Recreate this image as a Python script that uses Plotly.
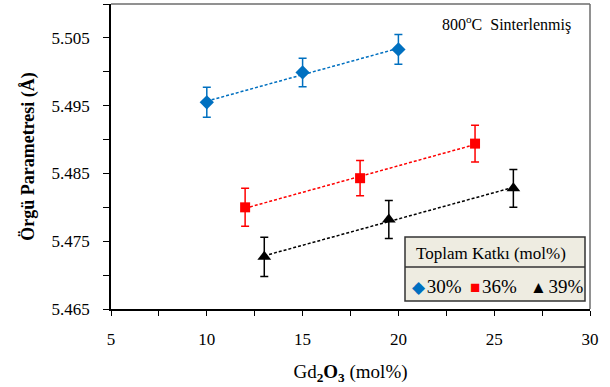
import numpy as np
import plotly.graph_objects as go

# Data
x_30 = [10, 15, 20]
y_30 = [5.4955, 5.4999, 5.5033]
e_30 = [0.0022, 0.0021, 0.0022]

x_36 = [12, 18, 24]
y_36 = [5.4800, 5.4843, 5.4894]
e_36 = [0.0028, 0.0026, 0.0027]

x_39 = [13, 19.5, 26]
y_39 = [5.4727, 5.4782, 5.4828]
e_39 = [0.0029, 0.0028, 0.0028]

series_names = ["30%", "36%", "39%"]
colors = ["#0070C0", "#FF0000", "#000000"]
symbols = ["diamond", "square", "triangle-up"]
glyphs = ["◆", "■", "▲"]
sizes = [11, 10, 12]

FONT = "Liberation Serif, Times New Roman, serif"

fig = go.Figure()
for xs, ys, es, name, col, sym, sz in zip(
    [x_30, x_36, x_39], [y_30, y_36, y_39], [e_30, e_36, e_39],
    series_names, colors, symbols, sizes):
    # linear trend line
    k, b = np.polyfit(xs, ys, 1)
    xt = np.array([min(xs), max(xs)])
    fig.add_trace(go.Scatter(
        x=xt, y=k * xt + b, mode="lines", showlegend=False, hoverinfo="skip",
        line=dict(color=col, width=1.5, dash="3px,2px")))
    fig.add_trace(go.Scatter(
        x=xs, y=ys, mode="markers", name=name, showlegend=False,
        marker=dict(symbol=sym, size=sz, color=col),
        error_y=dict(type="data", array=es, visible=True, color=col,
                     thickness=1.5, width=4)))

L, R, T, B = 111, 20, 4, 78
W, H = 610, 387
pw, ph = W - L - R, H - T - B


def px_x(p):
    return (p - L) / pw


def px_y(p):
    return (H - B - p) / ph


fig.update_layout(
    width=W, height=H,
    margin=dict(l=L, r=R, t=T, b=B, autoexpand=False),
    plot_bgcolor="white", paper_bgcolor="white",
    font=dict(family=FONT, size=16, color="black"),
    showlegend=False,
    xaxis=dict(range=[5, 30], dtick=5, tick0=5, showgrid=False, zeroline=False,
               showline=True, linecolor="black", linewidth=1.5,
               ticks="outside", ticklen=5, tickwidth=1, tickcolor="black",
               minor=dict(dtick=2.5, ticks="outside", ticklen=5, tickcolor="black"),
               tickfont=dict(family=FONT, size=17), ticklabelstandoff=9,
               title=dict(text="Gd<sub><b>2</b></sub><b>O<sub>3</sub></b> (mol%)",
                          font=dict(family=FONT, size=19), standoff=17)),
    yaxis=dict(range=[5.465, 5.510], dtick=0.01, tick0=5.465, tickformat=".3f",
               showgrid=False, zeroline=False,
               showline=True, linecolor="black", linewidth=1.5,
               ticks="outside", ticklen=6, tickwidth=1, tickcolor="black",
               minor=dict(dtick=0.005, ticks="outside", ticklen=6, tickcolor="black"),
               tickfont=dict(family=FONT, size=17), ticklabelstandoff=10,
               title=dict(text="<b>Örgü Parametresi (Å)</b>",
                          font=dict(family=FONT, size=18), standoff=12)),
)

# gray top/right border of the plot area
fig.add_shape(type="line", xref="paper", yref="paper", x0=0, x1=1, y0=1, y1=1,
              line=dict(color="#6d6d6d", width=1.5))
fig.add_shape(type="line", xref="paper", yref="paper", x0=1, x1=1, y0=0, y1=1,
              line=dict(color="#6d6d6d", width=1.5))

# legend panel
fig.add_shape(type="rect", xref="paper", yref="paper",
              x0=px_x(405), x1=px_x(585), y0=px_y(301), y1=px_y(237),
              fillcolor="#EEECE1", line=dict(color="#333333", width=1.5),
              layer="below")
fig.add_shape(type="line", xref="paper", yref="paper",
              x0=px_x(405), x1=px_x(585), y0=px_y(267), y1=px_y(267),
              line=dict(color="#333333", width=1.5))
fig.add_annotation(text="Toplam Katkı (mol%)", xref="paper", yref="paper",
                   x=px_x(491), y=px_y(253), xanchor="center", yanchor="middle",
                   showarrow=False,
                   font=dict(family=FONT, size=17, color="black"))

item_left = [410, 468, 528]
for xl, g, name, col in zip(item_left, glyphs, series_names, colors):
    fig.add_annotation(
        text=(f'<span style="color:{col};font-size:17px">{g}</span>'
              f'<span style="font-size:7px"> </span>{name}'),
        xref="paper", yref="paper", x=px_x(xl), y=px_y(286),
        xanchor="left", yanchor="middle", showarrow=False,
        font=dict(family=FONT, size=19, color="black"))

fig.add_annotation(text="800<sup>o</sup>C  Sinterlenmiş", xref="paper", yref="paper",
                   x=px_x(506), y=px_y(24), xanchor="center", yanchor="middle",
                   showarrow=False,
                   font=dict(family=FONT, size=16, color="black"))

fig.write_html("out.html")
